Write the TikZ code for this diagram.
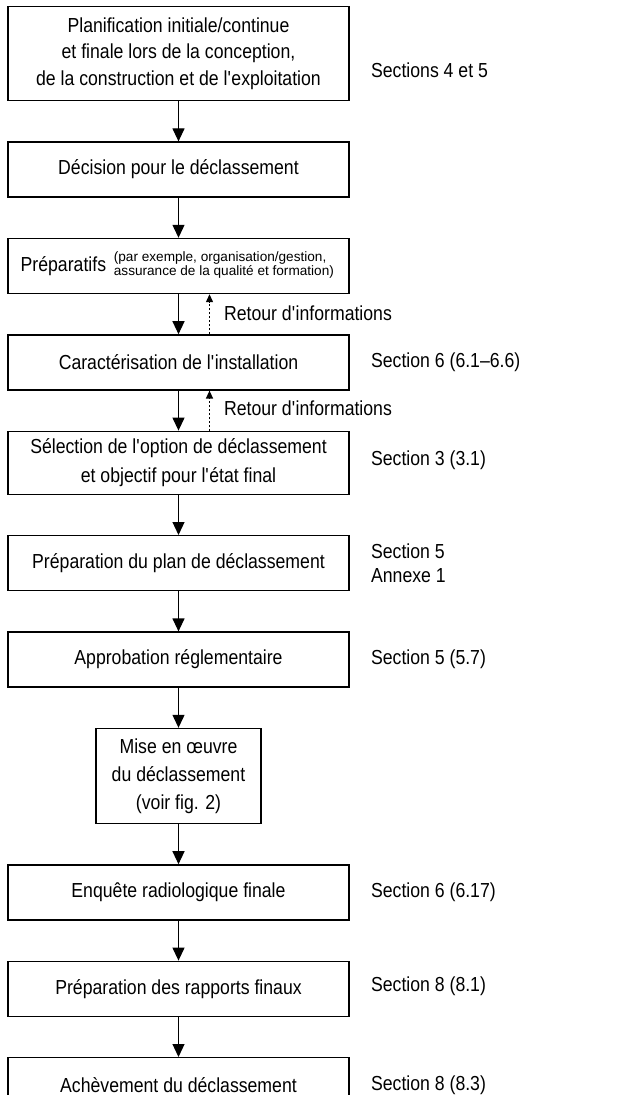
\documentclass[tikz,border=0pt]{standalone}
\usepackage{fontspec}
\setmainfont{Liberation Sans}[FakeStretch=0.87]
\newfontfamily\smallsans{Liberation Sans}
\usetikzlibrary{positioning,arrows.meta}
\newcommand{\ap}{\textquotesingle}

\begin{document}
\begin{tikzpicture}[
  node distance=20pt,
  font=\fontsize{10.15}{13.3}\selectfont,
  box/.style={draw, line width=0.7pt, align=center, minimum width=170.5pt, minimum height=27.5pt, inner sep=0pt},
  note/.style={inner sep=0pt, align=left},
  small/.style={note, font=\smallsans\fontsize{6.8}{7.4}\selectfont},
  arr/.style={-{Triangle[length=6.5pt, width=6pt]}, line width=0.6pt},
  fb/.style={-{Triangle[length=4pt, width=3.5pt]}, line width=0.6pt, dash pattern=on 1pt off 1pt}
]
  \useasboundingbox (0,0) rectangle (311.5pt,-547.5pt);
  \node[box, minimum height=47pt, anchor=north] (plan) at (89.25pt,-3pt) {Planification initiale/continue\\et finale lors de la conception,\\de la construction et de l\ap exploitation};
  \node[box, below=of plan] (decision) {Décision pour le déclassement};
  \node[box, below=of decision] (prep) {};
  \node[note, anchor=west] (preptxt) at ([xshift=6.5pt]prep.west) {Préparatifs};
  \node[small, right=3.5pt of preptxt, yshift=0.5pt] (prepnote) {(par exemple, organisation/gestion,\\assurance de la qualité et formation)};
  \node[box, below=of prep] (carac) {Caractérisation de l\ap installation};
  \node[box, below=of carac, minimum height=31.5pt] (select) {Sélection de l\ap option de déclassement\\[1.5pt]et objectif pour l\ap état final};
  \node[box, below=of select] (plandecl) {Préparation du plan de déclassement};
  \node[box, below=of plandecl] (approb) {Approbation réglementaire};
  \node[box, below=of approb, minimum width=82.5pt, minimum height=47.5pt] (mise) {Mise en œuvre\\[0.7pt]du déclassement\\[0.7pt](voir fig. 2)};
  \node[box, below=of mise] (enquete) {Enquête radiologique finale};
  \node[box, below=of enquete] (rapports) {Préparation des rapports finaux};
  \node[box, below=of rapports] (fin) {Achèvement du déclassement};

  \node[note, right=10.5pt of plan, yshift=-8.5pt] (lplan) {Sections 4 et 5};
  \node[note, right=10.5pt of carac] (lcarac) {Section 6 (6.1–6.6)};
  \node[note, right=10.5pt of select, yshift=1.5pt] (lselect) {Section 3 (3.1)};
  \node[note, right=10.5pt of plandecl] (lplandecl) {Section 5\\[-1pt]Annexe 1};
  \node[note, right=10.5pt of approb] (lapprob) {Section 5 (5.7)};
  \node[note, right=10.5pt of enquete] (lenquete) {Section 6 (6.17)};
  \node[note, right=10.5pt of rapports, yshift=1.5pt] (lrapports) {Section 8 (8.1)};
  \node[note, right=10.5pt of fin] (lfin) {Section 8 (8.3)};

  \draw[arr] (plan) -- (decision);
  \draw[arr] (decision) -- (prep);
  \draw[arr] (prep) -- (carac);
  \draw[arr] (carac) -- (select);
  \draw[arr] (select) -- (plandecl);
  \draw[arr] (plandecl) -- (approb);
  \draw[arr] (approb) -- (mise);
  \draw[arr] (mise) -- (enquete);
  \draw[arr] (enquete) -- (rapports);
  \draw[arr] (rapports) -- (fin);

  \draw[fb] ([xshift=15.5pt]carac.north) -- ([xshift=15.5pt]prep.south)
    node[note, midway, right=7pt, yshift=0.5pt] (retour1) {Retour d\ap informations};
  \draw[fb] ([xshift=15.5pt]select.north) -- ([xshift=15.5pt]carac.south)
    node[note, midway, right=7pt, yshift=1pt] (retour2) {Retour d\ap informations};
\end{tikzpicture}
\end{document}
